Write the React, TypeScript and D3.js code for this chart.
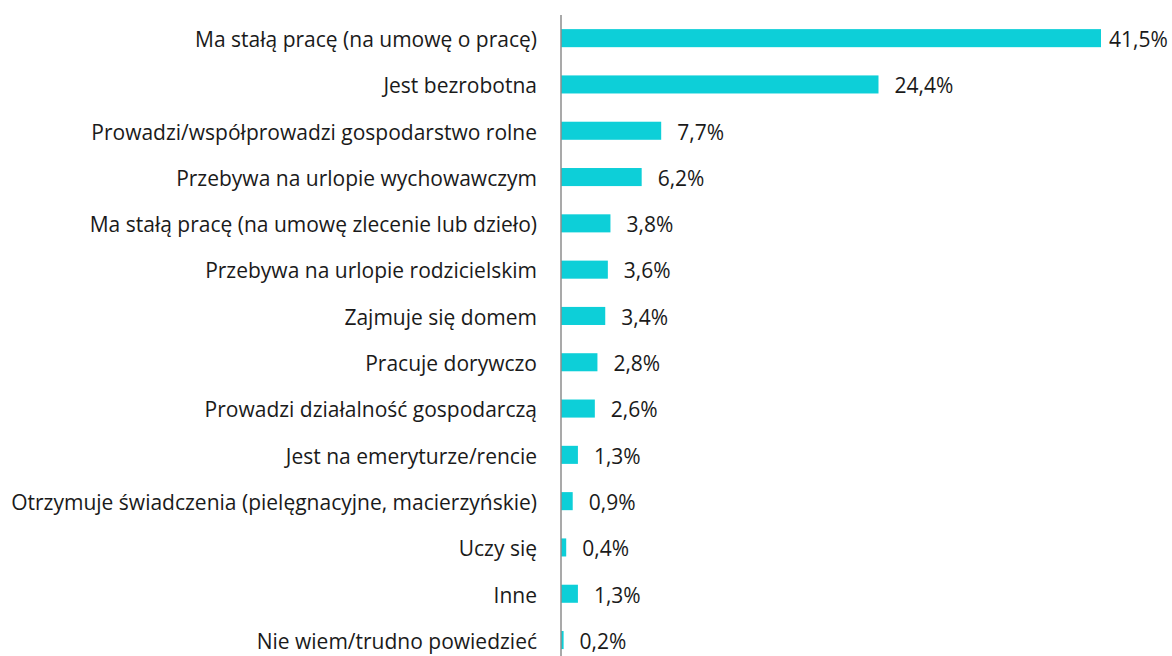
import React from "react";
import * as d3 from "d3";

const categories = [
  "Ma stałą pracę (na umowę o pracę)",
  "Jest bezrobotna",
  "Prowadzi/współprowadzi gospodarstwo rolne",
  "Przebywa na urlopie wychowawczym",
  "Ma stałą pracę (na umowę zlecenie lub dzieło)",
  "Przebywa na urlopie rodzicielskim",
  "Zajmuje się domem",
  "Pracuje dorywczo",
  "Prowadzi działalność gospodarczą",
  "Jest na emeryturze/rencie",
  "Otrzymuje świadczenia (pielęgnacyjne, macierzyńskie)",
  "Uczy się",
  "Inne",
  "Nie wiem/trudno powiedzieć",
];
const values = [41.5, 24.4, 7.7, 6.2, 3.8, 3.6, 3.4, 2.8, 2.6, 1.3, 0.9, 0.4, 1.3, 0.2];

const W = 1172;
const H = 656;
const X0 = 561;
const FONT = "'Open Sans', sans-serif";

export default function App() {
  const x = d3.scaleLinear().domain([0, 41.5]).range([X0, 1101]);
  const y = d3
    .scaleBand<string>()
    .domain(categories)
    .range([15, 15 + 46.3 * categories.length])
    .paddingInner(0.61)
    .paddingOuter(0.305);
  const fmt = (v: number) => v.toFixed(1).replace(".", ",") + "%";
  return (
    <svg
      width={W}
      height={H}
      style={{ position: "absolute", left: 0, top: 0, background: "#fff" }}
      fontFamily={FONT}
    >
      {categories.map((c, i) => {
        const yc = (y(c) as number) + y.bandwidth() / 2;
        return (
          <g key={c}>
            <rect
              x={x(0)}
              y={y(c)}
              width={x(values[i]) - x(0)}
              height={y.bandwidth()}
              fill="#0DCFD8"
            />
            <text x={537} y={yc} dy="0.42em" textAnchor="end" fontSize={21} fill="#1a1a1a">
              {c}
            </text>
            <text
              x={Math.min(x(values[i]) + 16, 1109)}
              y={yc}
              dy="0.42em"
              fontSize={21}
              fill="#1a1a1a"
            >
              {fmt(values[i])}
            </text>
          </g>
        );
      })}
      <line x1={X0} x2={X0} y1={15} y2={H} stroke="#8c8c8c" strokeWidth={1.5} />
    </svg>
  );
}
